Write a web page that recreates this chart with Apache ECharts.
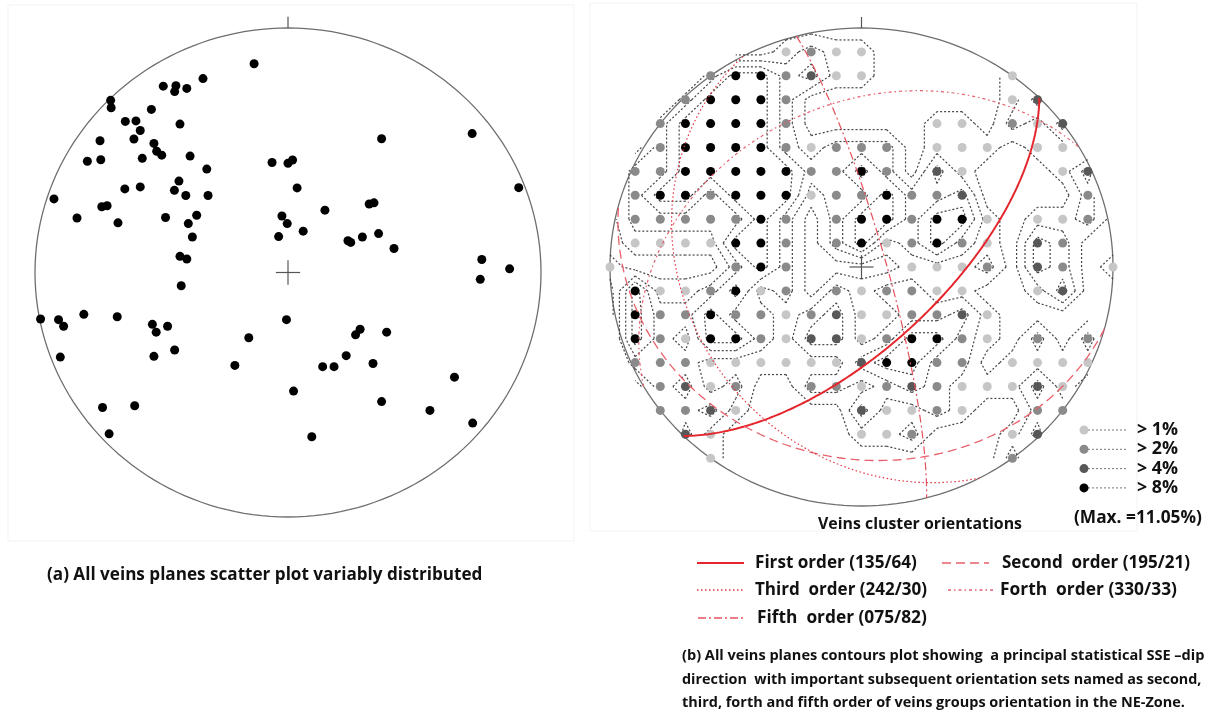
<!DOCTYPE html>
<html>
<head>
<meta charset="utf-8">
<title>Veins stereonets</title>
<script src="https://cdn.jsdelivr.net/npm/echarts@6/dist/echarts.min.js"></script>
<style>
html, body { margin: 0; padding: 0; background: #fff; }
#main { width: 1213px; height: 713px; }
</style>
</head>
<body>
<div id="main"></div>
<script>
// (a) poles of all vein planes, net units (x = east, y = north, radius 1)
var veinPoles = [
  [-0.134,0.854],[-0.336,0.793],[-0.493,0.762],[-0.443,0.764],[-0.448,0.740],[-0.400,0.753],
  [-0.701,0.704],[-0.699,0.674],[-0.540,0.667],[-0.643,0.618],[-0.601,0.620],[-0.427,0.607],
  [-0.584,0.581],[-0.743,0.539],[-0.609,0.546],[-0.530,0.528],[-0.519,0.496],[-0.499,0.480],
  [-0.793,0.455],[-0.740,0.461],[-0.576,0.467],[-0.387,0.476],[-0.321,0.423],[-0.431,0.374],
  [-0.645,0.342],[-0.584,0.350],[-0.449,0.336],[-0.404,0.315],[-0.316,0.315],[-0.925,0.301],
  [-0.736,0.269],[-0.715,0.273],[-0.834,0.223],[-0.672,0.203],[-0.484,0.225],[-0.361,0.234],
  [-0.394,0.200],[-0.378,0.145],[-0.427,0.066],[-0.400,0.055],[-0.422,-0.054],[-0.063,0.450],
  [0.000,0.447],[0.018,0.460],[0.036,0.346],[-0.024,0.231],[-0.003,0.200],[-0.037,0.147],
  [0.060,0.169],[0.146,0.255],[0.370,0.547],[0.321,0.280],[0.340,0.285],[0.237,0.130],
  [0.248,0.123],[0.294,0.145],[0.358,0.159],[0.419,0.098],[0.728,0.568],[0.912,0.347],
  [0.766,0.053],[0.876,0.015],[0.760,-0.028],[-0.978,-0.190],[-0.907,-0.193],[-0.887,-0.220],
  [-0.807,-0.171],[-0.675,-0.181],[-0.536,-0.212],[-0.521,-0.244],[-0.476,-0.220],[-0.448,-0.317],
  [-0.530,-0.343],[-0.900,-0.346],[-0.006,-0.193],[-0.155,-0.267],[-0.210,-0.380],[0.285,-0.232],
  [0.267,-0.255],[0.390,-0.244],[0.230,-0.340],[0.336,-0.372],[0.137,-0.385],[0.182,-0.385],
  [0.658,-0.428],[0.022,-0.485],[0.370,-0.528],[0.561,-0.564],[0.730,-0.616],[-0.733,-0.552],
  [-0.606,-0.545],[-0.707,-0.660],[0.094,-0.672]
];

// (b) counting grid, 0.1 net units apart. Rows run north (+0.9) to south (-0.8),
// columns west (-1.0) to east (+1.0). 0 = below 1%, 1 = >1%, 2 = >2%, 3 = >4%, 4 = >8%
var gridTopRow = 9;
var densityRows = [
  '000000012110000000000',
  '000024423110000010000',
  '000244420000000013000',
  '002444420000011021300',
  '002444421222011101100',
  '022444442242031000130',
  '024424441224223000020',
  '022222420244244101120',
  '011114420241242103200',
  '100002420000111203201',
  '041124120212211001300',
  '042242212311223100000',
  '042144213312442102020',
  '022211111134422011110',
  '002312002212321113100',
  '002231000031121002200',
  '000310000011200013000',
  '000010000000000020000'
];
var densityLabels = ['> 1%', '> 2%', '> 4%', '> 8%'];
var densityColors = ['#c6c6c6', '#8a8a8a', '#585858', '#000000'];
var maxLabel = '(Max. =11.05%)';

// vein cluster planes: dip direction / dip
var orderNames = ['First order', 'Second  order', 'Third  order', 'Forth  order', 'Fifth  order'];
var dipDirs = [135, 195, 242, 330, 75];
var dips = [64, 21, 30, 33, 82];
var orderDash = [null, [9, 5], [1.5, 2.5], [3, 3, 1.5, 3], [8, 3, 2, 3]];
var orderWidth = [2, 1.3, 1.2, 1.2, 1.2];
var orderColor = ['#e4262c', '#e8606b', '#e4343f', '#e5606c', '#e4505c'];

var captionA = '(a) All veins planes scatter plot variably distributed';
var captionB = [
  '(b) All veins planes contours plot showing  a principal statistical SSE \u2013dip',
  'direction  with important subsequent orientation sets named as second,',
  'third, forth and fifth order of veins groups orientation in the NE-Zone.'
];

var FONT = '"Open Sans", Lato, sans-serif';

// font size that makes a bold label span the width it has in the figure
var measureCtx = document.createElement('canvas').getContext('2d');
function fitSize(s, width) {
  measureCtx.font = 'bold 100px ' + FONT;
  return 100 * width / measureCtx.measureText(s).width;
}

function levelAt(i, j) {
  var r = gridTopRow - j;
  if (r < 0 || r >= densityRows.length || i < -10 || i > 10) return 0;
  return +densityRows[r].charAt(i + 10) || 0;
}

// net outline
function netCircle() {
  var pts = [];
  for (var k = 0; k <= 360; k += 2) {
    var a = k * Math.PI / 180;
    pts.push([Math.sin(a), Math.cos(a)]);
  }
  return pts;
}

// lower hemisphere equal-area trace of a plane
function greatCircle(dd, dip) {
  var rad = Math.PI / 180, pts = [];
  var s = (dd - 90) * rad, d = dd * rad, p = dip * rad;
  for (var k = 0; k <= 180; k++) {
    var th = k * rad;
    var vx = Math.cos(th) * Math.sin(s) + Math.sin(th) * Math.sin(d) * Math.cos(p);
    var vy = Math.cos(th) * Math.cos(s) + Math.sin(th) * Math.cos(d) * Math.cos(p);
    var vz = Math.sin(th) * Math.sin(p);
    var plunge = Math.asin(Math.min(1, vz));
    var trend = Math.atan2(vx, vy);
    var r = Math.SQRT2 * Math.sin((Math.PI / 2 - plunge) / 2);
    pts.push([r * Math.sin(trend), r * Math.cos(trend)]);
  }
  return pts;
}

// contour lines of the counting grid (marching squares)
function contourSegments() {
  var segs = [];
  [0.5, 1.5, 2.5, 3.5].forEach(function (t) {
    for (var i = -10; i < 10; i++) {
      for (var j = -10; j < 10; j++) {
        var a = levelAt(i, j), b = levelAt(i + 1, j), c = levelAt(i + 1, j + 1), d = levelAt(i, j + 1);
        var cross = function (v1, v2, x1, y1, x2, y2) {
          var f = (t - v1) / (v2 - v1);
          return [x1 + (x2 - x1) * f, y1 + (y2 - y1) * f];
        };
        var pb = (a > t) !== (b > t) ? cross(a, b, i, j, i + 1, j) : null;
        var pr = (b > t) !== (c > t) ? cross(b, c, i + 1, j, i + 1, j + 1) : null;
        var pt = (c > t) !== (d > t) ? cross(c, d, i + 1, j + 1, i, j + 1) : null;
        var pl = (d > t) !== (a > t) ? cross(d, a, i, j + 1, i, j) : null;
        var pts = [pb, pr, pt, pl].filter(Boolean);
        if (pts.length === 2) {
          segs.push(pts);
        } else if (pts.length === 4) {
          var mid = (a + b + c + d) / 4;
          if ((a > t) === (mid > t)) { segs.push([pb, pr]); segs.push([pt, pl]); }
          else { segs.push([pl, pb]); segs.push([pr, pt]); }
        }
      }
    }
  });
  var out = [];
  segs.forEach(function (s) {
    var r1 = Math.sqrt(s[0][0] * s[0][0] + s[0][1] * s[0][1]);
    var r2 = Math.sqrt(s[1][0] * s[1][0] + s[1][1] * s[1][1]);
    if (r1 <= 10.2 && r2 <= 10.2) out.push([s[0][0] / 10, s[0][1] / 10, s[1][0] / 10, s[1][1] / 10]);
  });
  return out;
}

function decoLine(idx, data, color, width) {
  return {
    type: 'line', xAxisIndex: idx, yAxisIndex: idx, data: data, symbol: 'none', silent: true,
    clip: false, lineStyle: { color: color, width: width }, z: 1
  };
}

var series = [];
[0, 1].forEach(function (g) {
  series.push(decoLine(g, netCircle(), '#6e6e6e', 1.3));
  series.push(decoLine(g, [[0, 1], [0, 1.046]], '#555', 1.2));
  series.push(decoLine(g, [[-0.048, 0], [0.048, 0]], '#555', 1.2));
  series.push(decoLine(g, [[0, -0.05], [0, 0.05]], '#555', 1.2));
});

series.push({
  type: 'scatter', xAxisIndex: 0, yAxisIndex: 0, data: veinPoles, symbolSize: 9,
  itemStyle: { color: '#000', opacity: 1 }, silent: true, z: 3
});

series.push({
  type: 'custom', xAxisIndex: 1, yAxisIndex: 1, data: contourSegments(), silent: true, z: 2,
  clip: false,
  renderItem: function (params, api) {
    var p1 = api.coord([api.value(0), api.value(1)]);
    var p2 = api.coord([api.value(2), api.value(3)]);
    return {
      type: 'line',
      shape: { x1: p1[0], y1: p1[1], x2: p2[0], y2: p2[1] },
      style: { stroke: '#444', lineWidth: 1.2, lineDash: [2, 2] }
    };
  }
});

densityLabels.forEach(function (lab, k) {
  var pts = [];
  densityRows.forEach(function (row, r) {
    for (var c = 0; c < row.length; c++) {
      if (+row.charAt(c) === k + 1) pts.push([(c - 10) / 10, (gridTopRow - r) / 10]);
    }
  });
  series.push({
    type: 'scatter', xAxisIndex: 1, yAxisIndex: 1, data: pts, symbolSize: 9,
    itemStyle: { color: densityColors[k], opacity: 1 }, silent: true, z: 3
  });
});

orderNames.forEach(function (n, k) {
  series.push({
    type: 'line', xAxisIndex: 1, yAxisIndex: 1, data: greatCircle(dipDirs[k], dips[k]),
    symbol: 'none', silent: true, z: 4,
    lineStyle: { color: orderColor[k], width: orderWidth[k], type: orderDash[k] || 'solid' }
  });
});

// legends and captions
var graphic = [];
var txt = function (x, y, s, width) {
  return {
    type: 'text', silent: true,
    style: { text: s, x: x, y: y, fill: '#111', font: 'bold ' + fitSize(s, width).toFixed(2) + 'px ' + FONT,
      textVerticalAlign: 'middle' }
  };
};
graphic.push({ type: 'rect', shape: { x: 8, y: 5, width: 566, height: 536 },
  style: { fill: null, stroke: '#f3f3f3', lineWidth: 1 }, silent: true, z: -10 });
graphic.push({ type: 'rect', shape: { x: 590, y: 3, width: 547, height: 528 },
  style: { fill: null, stroke: '#f3f3f3', lineWidth: 1 }, silent: true, z: -10 });

densityLabels.forEach(function (lab, k) {
  var y = 430 + k * 19.3;
  graphic.push({ type: 'line', shape: { x1: 1088, y1: y, x2: 1127, y2: y },
    style: { stroke: '#777', lineWidth: 1, lineDash: [2, 2] }, silent: true });
  graphic.push({ type: 'circle', shape: { cx: 1084, cy: y, r: 4.5 }, style: { fill: densityColors[k] }, silent: true });
  graphic.push(txt(1137, y, lab, 41));
});
graphic.push(txt(1074, 518, maxLabel, 128));
graphic.push(txt(818, 524, 'Veins cluster orientations', 204));

var legendRows = [563, 563, 590, 590, 618];
var legendSampleX = [697, 942, 697, 948, 698];
var legendTextX = [755, 1002, 755, 1000, 757];
var legendTextW = [162, 188, 172, 177, 170];
orderNames.forEach(function (n, k) {
  var y = legendRows[k], x = legendSampleX[k];
  var dd = ('00' + dipDirs[k]).slice(-3);
  graphic.push({ type: 'line', shape: { x1: x, y1: y, x2: x + 47, y2: y },
    style: { stroke: orderColor[k], lineWidth: k === 0 ? 2 : 1.3, lineDash: orderDash[k] || null }, silent: true });
  graphic.push(txt(legendTextX[k], y, n + ' (' + dd + '/' + dips[k] + ')', legendTextW[k]));
});
graphic.push(txt(47, 575, captionA, 436));
var captionBRows = [656, 680, 703];
var captionBW = [523, 520, 503];
captionB.forEach(function (s, k) {
  graphic.push(txt(682, captionBRows[k], s, captionBW[k]));
});

var chart = echarts.init(document.getElementById('main'), null, { renderer: 'canvas' });
chart.setOption({
  backgroundColor: '#fff',
  animation: false,
  grid: [
    { left: 35, top: 28, width: 506, height: 489 },
    { left: 610, top: 28, width: 503, height: 478 }
  ],
  xAxis: [
    { gridIndex: 0, type: 'value', min: -1, max: 1, show: false },
    { gridIndex: 1, type: 'value', min: -1, max: 1, show: false }
  ],
  yAxis: [
    { gridIndex: 0, type: 'value', min: -1, max: 1, show: false },
    { gridIndex: 1, type: 'value', min: -1, max: 1, show: false }
  ],
  series: series,
  graphic: graphic
});
</script>
</body>
</html>
